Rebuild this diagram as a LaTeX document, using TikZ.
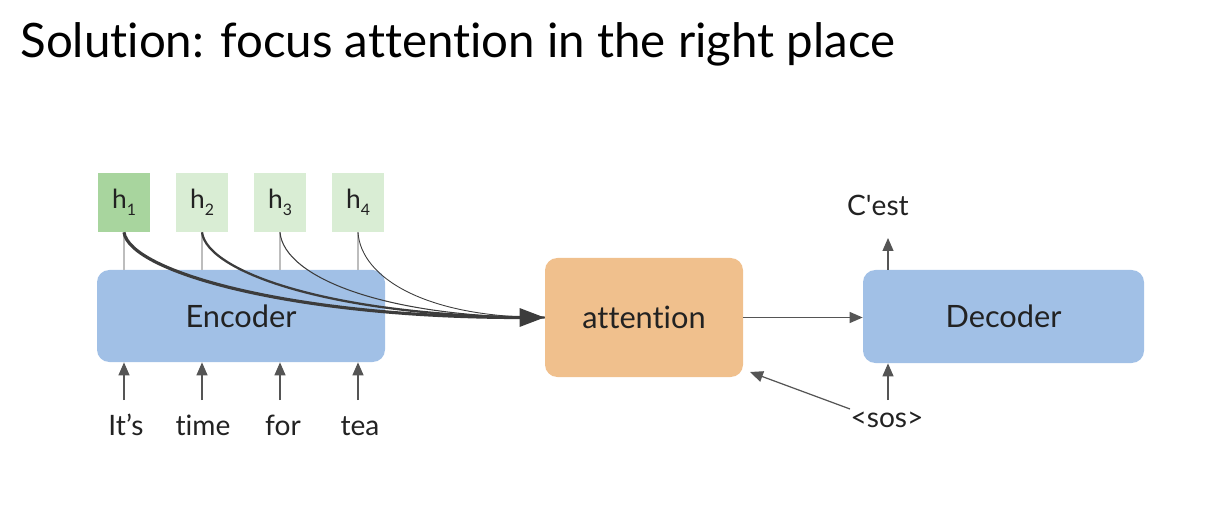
\documentclass[tikz,border=0pt]{standalone}
\usepackage{fontspec}
\setmainfont{Lato}[Ligatures={NoCommon}]
\usepackage{tikz}
\usetikzlibrary{arrows.meta,positioning,calc}
\definecolor{attink}{HTML}{222222}
\definecolor{attmuted}{HTML}{555555}
\definecolor{attpull}{HTML}{3C3C3C}
\definecolor{attrule}{HTML}{BDBDBD}
\definecolor{attblue}{HTML}{A1C0E6}
\definecolor{attorange}{HTML}{F0C08D}
\definecolor{atthdark}{HTML}{A8D59E}
\definecolor{atthlight}{HTML}{D9EDD4}
\newcommand{\hsub}[1]{h\raisebox{-0.55ex}{\fontsize{9}{10}\selectfont #1}}
\tikzset{
  block/.style  = {rectangle, rounded corners=7pt, align=center,
                   font=\fontsize{17.5}{20}\selectfont, text=attink},
  coder/.style  = {block, fill=attblue, minimum width=5.76cm, minimum height=1.84cm},
  attn/.style   = {block, fill=attorange, minimum width=3.96cm, minimum height=2.38cm},
  hbox/.style   = {rectangle, minimum width=1.04cm, minimum height=1.18cm,
                   font=\fontsize{15}{17}\selectfont, text=attink},
  word/.style   = {font=\fontsize{16}{19}\selectfont, text=attink, inner sep=2pt},
  tick/.style   = {draw=attrule, line width=0.6pt},
  flow/.style   = {-{Triangle[length=2.6mm,width=2.2mm]}, draw=attmuted, line width=0.7pt},
  pull/.style   = {draw=attpull},
}
\begin{document}
\begin{tikzpicture}
\useasboundingbox (0,0) rectangle (24.6,10.36);
% title
\node[anchor=base west, inner sep=0pt, font=\fontsize{27}{32}\selectfont, text=black]
  (title) at (0.4,9.2) {Solution: focus attention in the right place};

% encoder side
\node[coder] (enc) at (4.82,4.04) {Encoder};
\node[hbox, fill=atthdark]  (h1) at (2.48,6.31) {\hsub{1}};
\node[hbox, fill=atthlight] (h2) at (4.04,6.31) {\hsub{2}};
\node[hbox, fill=atthlight] (h3) at (5.60,6.31) {\hsub{3}};
\node[hbox, fill=atthlight] (h4) at (7.16,6.31) {\hsub{4}};
\foreach \i in {1,...,4}
  \draw[tick] (h\i.south) -- (h\i.south |- enc.north);

\node[word, anchor=base] (w1) at (2.52,1.66) {It’s};
\node[word, anchor=base] (w2) at (4.06,1.66) {time};
\node[word, anchor=base] (w3) at (5.66,1.66) {for};
\node[word, anchor=base] (w4) at (7.20,1.66) {tea};
\foreach \i/\x in {1/2.48,2/4.04,3/5.60,4/7.16}
  \draw[flow] (\x,2.36) -- (\x,0 |- enc.south);

% attention and decoder
\node[attn] (att) at (12.88,4.01) {attention};
\node[coder, minimum width=5.62cm, minimum height=1.86cm] (dec) at (20.07,4.03) {Decoder};
\node[word, anchor=base] (out) at (17.56,6.04) {C\textquotesingle est};
\node[word, anchor=base] (sos) at (17.74,1.82) {<sos>};

\draw[flow] (att.east) -- (att.east -| dec.west);
\draw[flow] (17.76,0 |- dec.north) -- (17.76,5.6);
\draw[flow] (17.76,2.36) -- (17.76,0 |- dec.south);
\draw[flow] (17.0,2.18) -- (15.0,2.92);

% weighted pulls into attention
\draw[pull, line width=0.5pt] (h4.south) .. controls +(0.06,-0.9) and +(-2.4,0) .. (att.west);
\draw[pull, line width=0.6pt] (h3.south) .. controls +(0.08,-0.9) and +(-3.2,0) .. (att.west);
\draw[pull, line width=1.3pt] (h2.south) .. controls +(0.1,-0.8) and +(-4.2,0) .. (att.west);
\draw[pull, line width=1.8pt, -{Triangle[length=5mm,width=3.6mm]}]
  (h1.south) .. controls +(0.12,-0.8) and +(-5,0) .. (att.west);
\end{tikzpicture}
\end{document}
